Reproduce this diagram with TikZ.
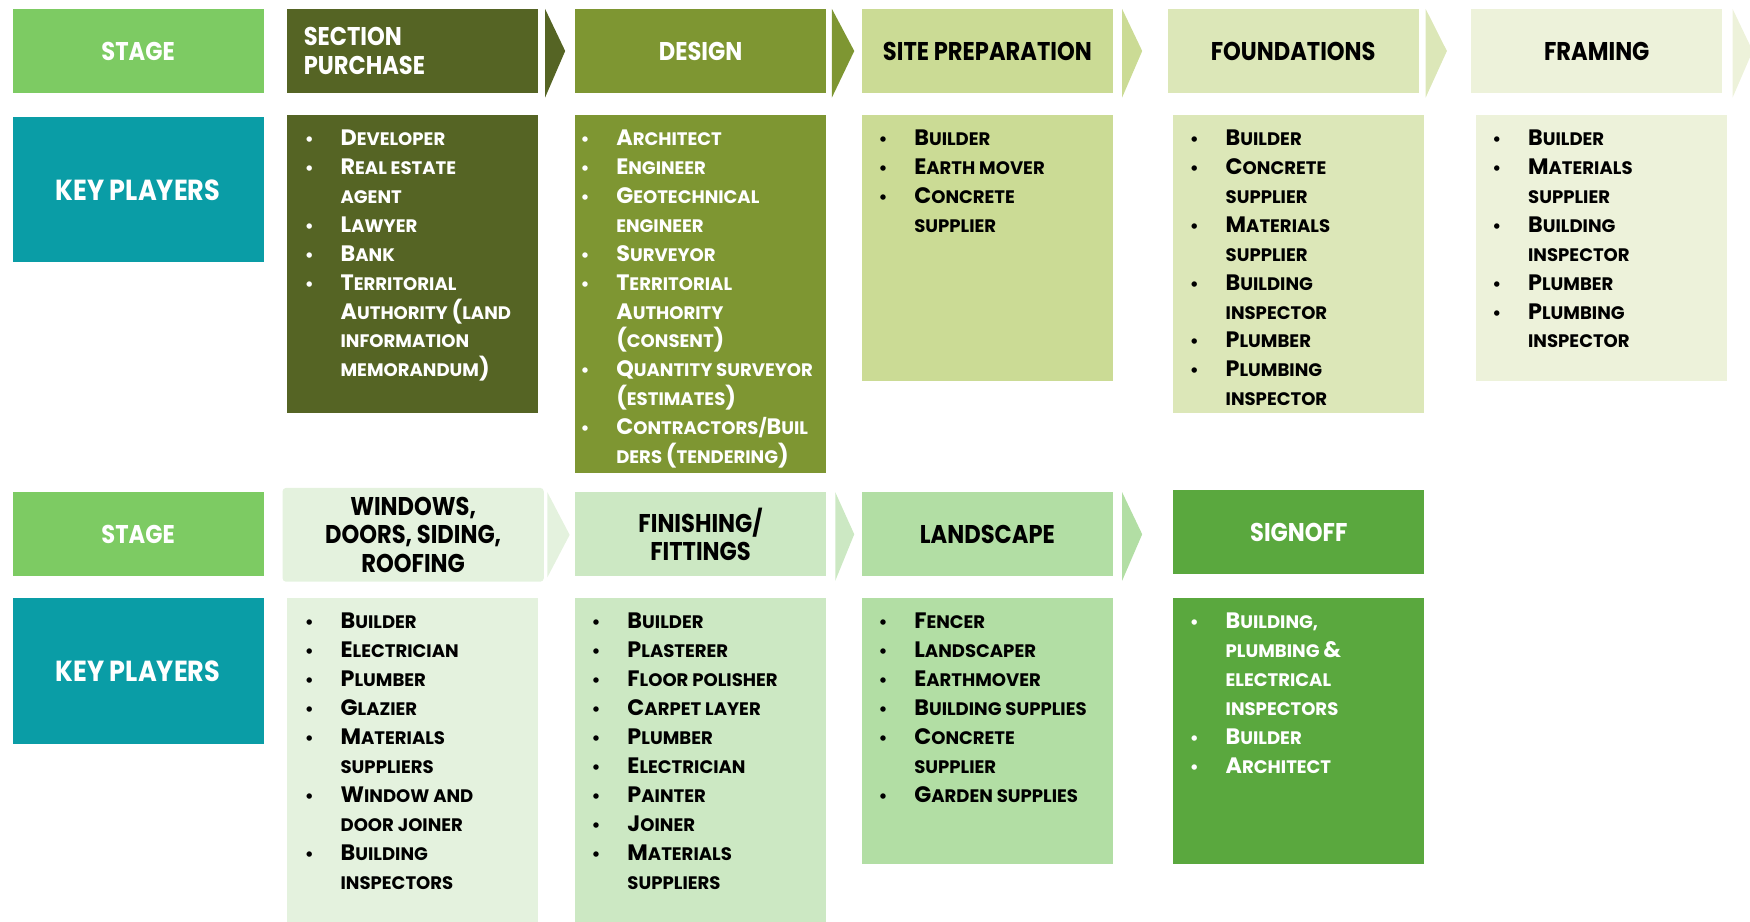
\documentclass[tikz,border=0pt]{standalone}
\usepackage{fontspec}
\setmainfont{Poppins}[FakeStretch=1.0]
\newfontfamily\hdfont{Poppins}[FakeStretch=0.88]
\definecolor{cstage}{HTML}{7DCB63}
\definecolor{ckey}{HTML}{0A9DA6}
\definecolor{csec}{HTML}{556424}
\definecolor{cdes}{HTML}{7E9632}
\definecolor{csite}{HTML}{CBDB95}
\definecolor{cfound}{HTML}{DCE7B8}
\definecolor{cfram}{HTML}{EDF2DA}
\definecolor{cwin}{HTML}{E4F2DE}
\definecolor{cfin}{HTML}{CCE8C3}
\definecolor{cland}{HTML}{B2DEA4}
\definecolor{csign}{HTML}{5AA83E}
\newcommand\Bg[1]{{\fontsize{20}{20}\selectfont #1}}
\newcommand\bitem[1]{\hbox{\makebox[29pt][l]{\hspace*{-3pt}\fontsize{16}{16}\selectfont\textbullet}#1}}
\newcommand\bcont[1]{\hbox{\hspace*{29pt}#1}}
\newcommand\klist[1]{\vtop{\baselineskip=25.9pt\lineskiplimit=-20pt\lineskip=0pt #1}}
\tikzset{
  hdr/.style={anchor=north west, inner sep=0pt, minimum width=225pt, minimum height=75pt, align=center, font=\hdfont\fontsize{23}{25.5}\selectfont\bfseries},
  keyhdr/.style={hdr, fill=ckey, text=white, minimum height=130pt, font=\hdfont\fontsize{26}{28}\selectfont\bfseries},
  bodybox/.style={anchor=north west, inner sep=0pt, minimum width=225pt},
  lst/.style={anchor=base west, inner sep=0pt, font=\fontsize{16.2}{17}\selectfont\bfseries},
}
\begin{document}
\begin{tikzpicture}[x=1pt,y=-1pt]
\useasboundingbox (0,0) rectangle (1568,826);
% ---- row 1 ----
\node[hdr, fill=cstage, text=white] (st1) at (11,8) {STAGE};
\node[keyhdr] (kp1) at (11,105) {KEY PLAYERS};

\node[hdr, fill=csec, text=white, align=left, text width=195pt] (h1) at (257,8) {SECTION\\PURCHASE};
\node[hdr, fill=cdes, text=white] (h2) at (515,8) {DESIGN};
\node[hdr, fill=csite, text=black] (h3) at (772,8) {SITE PREPARATION};
\node[hdr, fill=cfound, text=black] (h4) at (1046,8) {FOUNDATIONS};
\node[hdr, fill=cfram, text=black] (h5) at (1318,8) {FRAMING};

\fill[csec] ([xshift=6pt]h1.north east) -- ([xshift=24pt]h1.east) -- ([xshift=6pt,yshift=-4pt]h1.south east) -- cycle;
\fill[cdes] ([xshift=5pt]h2.north east) -- ([xshift=25pt]h2.east) -- ([xshift=5pt,yshift=-4pt]h2.south east) -- cycle;
\fill[csite] ([xshift=8pt]h3.north east) -- ([xshift=26pt]h3.east) -- ([xshift=8pt,yshift=-4pt]h3.south east) -- cycle;
\fill[cfound] ([xshift=6pt]h4.north east) -- ([xshift=25pt]h4.east) -- ([xshift=6pt,yshift=-4pt]h4.south east) -- cycle;
\fill[cfram] ([xshift=9pt]h5.north east) -- ([xshift=27pt]h5.east) -- ([xshift=9pt,yshift=-4pt]h5.south east) -- cycle;

\node[bodybox, fill=csec, minimum height=267pt] (b1) at (257,103) {};
\node[bodybox, fill=cdes, minimum height=321pt] (b2) at (515,103) {};
\node[bodybox, fill=csite, minimum height=238pt] (b3) at (772,103) {};
\node[bodybox, fill=cfound, minimum height=267pt] (b4) at (1051,103) {};
\node[bodybox, fill=cfram, minimum height=238pt] (b5) at (1322,103) {};

\node[lst, text=white] (l1) at (276,130.5) {\klist{%
\bitem{\Bg{D}EVELOPER}
\bitem{\Bg{R}EAL ESTATE}
\bcont{AGENT}
\bitem{\Bg{L}AWYER}
\bitem{\Bg{B}ANK}
\bitem{\Bg{T}ERRITORIAL}
\bcont{\Bg{A}UTHORITY \Bg{(}LAND}
\bcont{INFORMATION}
\bcont{MEMORANDUM\Bg{)}}}};

\node[lst, text=white] (l2) at (523,130.5) {\klist{%
\bitem{\Bg{A}RCHITECT}
\bitem{\Bg{E}NGINEER}
\bitem{\Bg{G}EOTECHNICAL}
\bcont{ENGINEER}
\bitem{\Bg{S}URVEYOR}
\bitem{\Bg{T}ERRITORIAL}
\bcont{\Bg{A}UTHORITY}
\bcont{\Bg{(}CONSENT\Bg{)}}
\bitem{\Bg{Q}UANTITY SURVEYOR}
\bcont{\Bg{(}ESTIMATES\Bg{)}}
\bitem{\Bg{C}ONTRACTORS/\Bg{B}UIL}
\bcont{DERS \Bg{(}TENDERING\Bg{)}}}};

\node[lst, text=black] (l3) at (790,130.5) {\klist{%
\bitem{\Bg{B}UILDER}
\bitem{\Bg{E}ARTH MOVER}
\bitem{\Bg{C}ONCRETE}
\bcont{SUPPLIER}}};

\node[lst, text=black] (l4) at (1069,130.5) {\klist{%
\bitem{\Bg{B}UILDER}
\bitem{\Bg{C}ONCRETE}
\bcont{SUPPLIER}
\bitem{\Bg{M}ATERIALS}
\bcont{SUPPLIER}
\bitem{\Bg{B}UILDING}
\bcont{INSPECTOR}
\bitem{\Bg{P}LUMBER}
\bitem{\Bg{P}LUMBING}
\bcont{INSPECTOR}}};

\node[lst, text=black] (l5) at (1340,130.5) {\klist{%
\bitem{\Bg{B}UILDER}
\bitem{\Bg{M}ATERIALS}
\bcont{SUPPLIER}
\bitem{\Bg{B}UILDING}
\bcont{INSPECTOR}
\bitem{\Bg{P}LUMBER}
\bitem{\Bg{P}LUMBING}
\bcont{INSPECTOR}}};

% ---- row 2 ----
\node[hdr, fill=cstage, text=white] (st2) at (11,441) {STAGE};
\node[keyhdr] (kp2) at (11,536) {KEY PLAYERS};

\node[hdr, fill=cwin, text=black, minimum width=234pt, minimum height=84pt, rounded corners=3pt] (h6) at (253,437) {WINDOWS,\\DOORS, SIDING,\\ROOFING};
\node[hdr, fill=cfin, text=black] (h7) at (515,441) {FINISHING/\\FITTINGS};
\node[hdr, fill=cland, text=black] (h8) at (772,441) {LANDSCAPE};
\node[hdr, fill=csign, text=white] (h9) at (1051,439) {SIGNOFF};

\fill[cwin] ([xshift=3pt,yshift=-4pt]h6.north east) -- ([xshift=23pt]h6.east) -- ([xshift=3pt,yshift=4pt]h6.south east) -- cycle;
\fill[cfin] ([xshift=8pt]h7.north east) -- ([xshift=25pt]h7.east) -- ([xshift=8pt,yshift=-4pt]h7.south east) -- cycle;
\fill[cland] ([xshift=8pt]h8.north east) -- ([xshift=26pt]h8.east) -- ([xshift=8pt,yshift=-4pt]h8.south east) -- cycle;

\node[bodybox, fill=cwin, minimum height=290pt] (b6) at (257,536) {};
\node[bodybox, fill=cfin, minimum height=290pt] (b7) at (515,536) {};
\node[bodybox, fill=cland, minimum height=238pt] (b8) at (772,536) {};
\node[bodybox, fill=csign, minimum height=238pt] (b9) at (1051,536) {};

\node[lst, text=black] (l6) at (276,563.5) {\klist{%
\bitem{\Bg{B}UILDER}
\bitem{\Bg{E}LECTRICIAN}
\bitem{\Bg{P}LUMBER}
\bitem{\Bg{G}LAZIER}
\bitem{\Bg{M}ATERIALS}
\bcont{SUPPLIERS}
\bitem{\Bg{W}INDOW AND}
\bcont{DOOR JOINER}
\bitem{\Bg{B}UILDING}
\bcont{INSPECTORS}}};

\node[lst, text=black] (l7) at (533,563.5) {\klist{%
\bitem{\Bg{B}UILDER}
\bitem{\Bg{P}LASTERER}
\bitem{\Bg{F}LOOR POLISHER}
\bitem{\Bg{C}ARPET LAYER}
\bitem{\Bg{P}LUMBER}
\bitem{\Bg{E}LECTRICIAN}
\bitem{\Bg{P}AINTER}
\bitem{\Bg{J}OINER}
\bitem{\Bg{M}ATERIALS}
\bcont{SUPPLIERS}}};

\node[lst, text=black] (l8) at (790,563.5) {\klist{%
\bitem{\Bg{F}ENCER}
\bitem{\Bg{L}ANDSCAPER}
\bitem{\Bg{E}ARTHMOVER}
\bitem{\Bg{B}UILDING SUPPLIES}
\bitem{\Bg{C}ONCRETE}
\bcont{SUPPLIER}
\bitem{\Bg{G}ARDEN SUPPLIES}}};

\node[lst, text=white] (l9) at (1069,563.5) {\klist{%
\bitem{\Bg{B}UILDING,}
\bcont{PLUMBING \Bg{\&}}
\bcont{ELECTRICAL}
\bcont{INSPECTORS}
\bitem{\Bg{B}UILDER}
\bitem{\Bg{A}RCHITECT}}};
\end{tikzpicture}
\end{document}
